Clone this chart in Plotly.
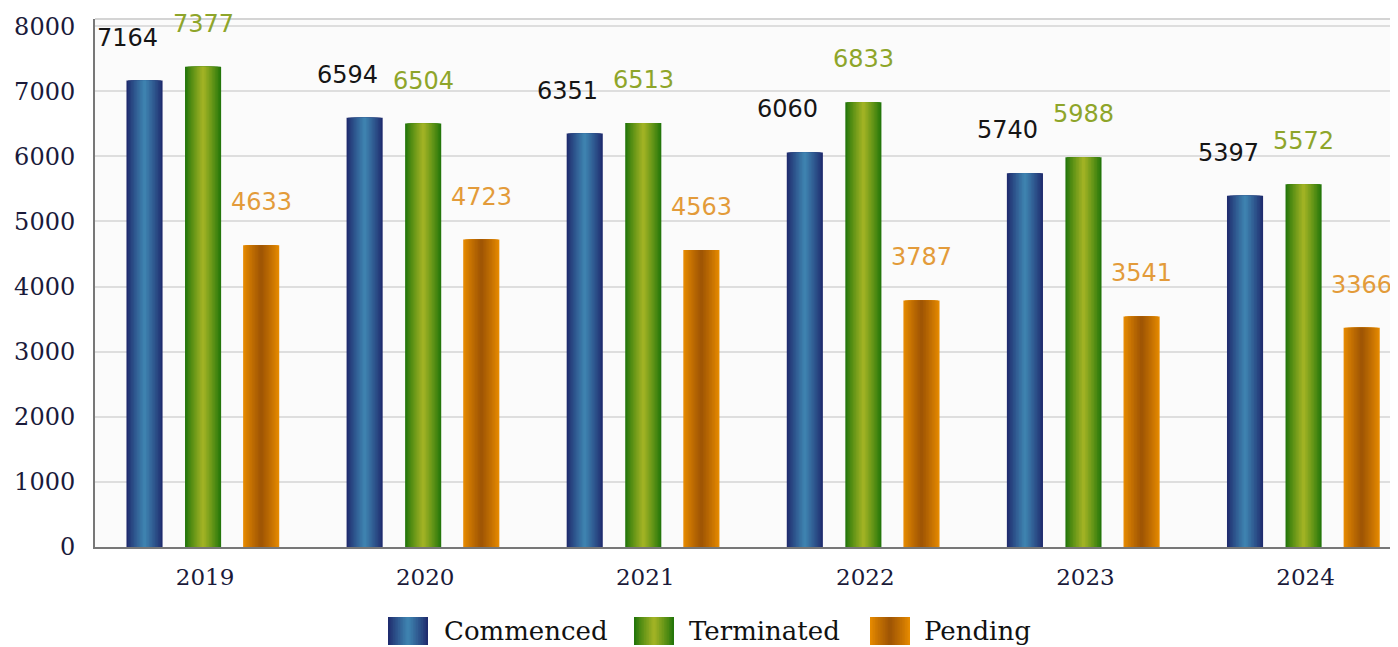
import plotly.graph_objects as go

years = ["2019", "2020", "2021", "2022", "2023", "2024"]
commenced = [7164, 6594, 6351, 6060, 5740, 5397]
terminated = [7377, 6504, 6513, 6833, 5988, 5572]
pending = [4633, 4723, 4563, 3787, 3541, 3366]
series_names = ["Commenced", "Terminated", "Pending"]
y_ticks = [0, 1000, 2000, 3000, 4000, 5000, 6000, 7000, 8000]

series = [commenced, terminated, pending]
# style
offsets = [-0.275, -0.009, 0.255]
bar_w = 0.164
edge_colors = [(31, 44, 110), (36, 118, 10), (230, 138, 0)]
center_colors = [(62, 130, 175), (160, 178, 36), (160, 86, 4)]
label_colors = ["#151515", "#8ea52a", "#e39b3a"]
label_xshift = [-17, 0, 0]
N = 12

# plot-area pixel geometry (used for the custom legend placement)
PX0, PX1, PY0, PY1 = 95, 1398, 19, 547
legend_swatch_x = [388, 634, 870]
legend_swatch_w = 40
legend_swatch_y = (617, 645)
legend_text_x = [442, 687, 922]
legend_text_y = 631


def mix(a, b, t):
    return "rgb(%d,%d,%d)" % tuple(round(a[i] + (b[i] - a[i]) * t) for i in range(3))


def px2x(px):
    return (px - PX0) / (PX1 - PX0)


def py2y(py):
    return (PY1 - py) / (PY1 - PY0)


fig = go.Figure()
for s, vals in enumerate(series):
    for k in range(N):
        w = bar_w * (1 - k / N)
        t = (k / (N - 1)) ** 0.9
        col = mix(edge_colors[s], center_colors[s], t)
        fig.add_trace(go.Bar(
            x=years, y=vals, width=w, offset=offsets[s] - w / 2,
            marker=dict(color=col, line=dict(width=0)),
            name=series_names[s], legendgroup=series_names[s],
            showlegend=False, opacity=1, hoverinfo="skip" if k else "y+name",
        ))

annotations = []
for s, vals in enumerate(series):
    for i, v in enumerate(vals):
        annotations.append(dict(
            x=i + offsets[s], y=v, xref="x", yref="y", text=str(v),
            showarrow=False, yanchor="middle", yshift=43, xshift=label_xshift[s],
            font=dict(family="DejaVu Sans", size=24, color=label_colors[s]),
        ))

shapes = [dict(type="line", xref="paper", yref="paper", x0=0, x1=1, y0=1, y1=1,
               line=dict(color="#d4d4d4", width=2))]

# custom legend with shaded swatches
for s, name in enumerate(series_names):
    x0 = legend_swatch_x[s]
    for k in range(N):
        f = 1 - k / N
        w = legend_swatch_w * f
        c = x0 + legend_swatch_w / 2
        t = (k / (N - 1)) ** 0.9
        shapes.append(dict(
            type="rect", xref="paper", yref="paper",
            x0=px2x(c - w / 2), x1=px2x(c + w / 2),
            y0=py2y(legend_swatch_y[1]), y1=py2y(legend_swatch_y[0]),
            line=dict(width=0), fillcolor=mix(edge_colors[s], center_colors[s], t),
        ))
    annotations.append(dict(
        x=px2x(legend_text_x[s]), y=py2y(legend_text_y), xref="paper", yref="paper",
        text=name, showarrow=False, xanchor="left", yanchor="middle",
        font=dict(family="DejaVu Serif", size=26, color="#111"),
    ))

fig.update_layout(
    width=1390, height=639,
    barmode="overlay",
    margin=dict(l=87, r=0, t=11, b=100),
    paper_bgcolor="white",
    plot_bgcolor="#fbfbfb",
    annotations=annotations,
    shapes=shapes,
    showlegend=False,
    font=dict(family="DejaVu Serif", color="#1a1a3a"),
)
fig.update_xaxes(
    type="category", range=[-0.5, 5.42], showgrid=False,
    showline=True, linecolor="#777", linewidth=2,
    tickfont=dict(family="DejaVu Serif", size=23, color="#1a1a3a"),
    ticks="", ticklabelstandoff=8, automargin=False,
)
fig.update_yaxes(
    range=[0, 8110], tickvals=y_ticks, showgrid=True, gridcolor="#dedede", gridwidth=2,
    showline=True, linecolor="#777", linewidth=2, zeroline=False,
    tickfont=dict(family="DejaVu Serif", size=24, color="#1a1a3a"),
    ticks="", ticklabelstandoff=13, automargin=False,
)

fig.write_html("out.html")
